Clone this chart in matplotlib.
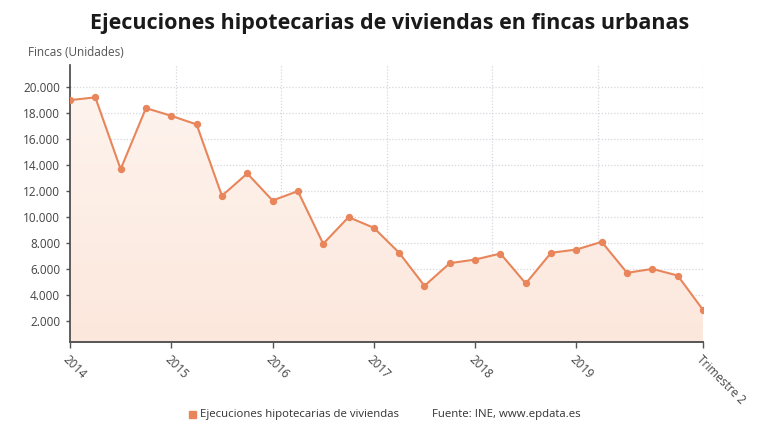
import matplotlib
matplotlib.use("Agg")
import matplotlib.pyplot as plt
import numpy as np
from matplotlib.ticker import FuncFormatter
from matplotlib.colors import LinearSegmentedColormap
from matplotlib import font_manager

plt.rcParams['font.family'] = ['Open Sans', 'DejaVu Sans']

quarters = list(range(26))  # 2014 T1 .. 2020 T2
values = [19000, 19210, 13690, 18385, 17790, 17130, 11640, 13360, 11280, 12000,
          7950, 10000, 9180, 7260, 4720, 6460, 6740, 7200, 4900, 7260,
          7510, 8100, 5720, 6020, 5510, 2870]
tick_pos = [0, 4, 8, 12, 16, 20, 25]
tick_labels = ["2014", "2015", "2016", "2017", "2018", "2019", "Trimestre 2"]
yticks = [2000, 4000, 6000, 8000, 10000, 12000, 14000, 16000, 18000, 20000]

title = "Ejecuciones hipotecarias de viviendas en fincas urbanas"
ylabel = "Fincas (Unidades)"
series_name = "Ejecuciones hipotecarias de viviendas"
source = "Fuente: INE, www.epdata.es"

line_color = "#e8855a"
ymin, ymax = 400, 21700

# pick a non-condensed bold Open Sans file for the title if available
title_fp = None
for f in font_manager.fontManager.ttflist:
    if f.name == "Open Sans" and f.stretch in ("normal", 500) and f.weight in (700, "bold") and f.style == "normal":
        title_fp = font_manager.FontProperties(fname=f.fname)
        break
if title_fp is None:
    title_fp = font_manager.FontProperties(family="Open Sans", weight="bold")

fig = plt.figure(figsize=(7.8, 4.4), dpi=100)
ax = fig.add_axes([70/780, 1-342/440, (703-70)/780, (342-65)/440])

x = np.array(quarters)
y = np.array(values)

# gradient fill under the line
poly = ax.fill_between(x, y, ymin, color="none", linewidth=0)
grad = np.linspace(0, 1, 256).reshape(-1, 1)
cmap = LinearSegmentedColormap.from_list("g", ["#fce7dc", "#fef5f0"])
im = ax.imshow(grad, extent=[x[0], x[-1], ymin, ymax], origin="lower",
               aspect="auto", cmap=cmap, zorder=1)
im.set_clip_path(poly.get_paths()[0], transform=ax.transData)

ax.plot(x, y, color=line_color, lw=1.5, zorder=3)
ax.scatter(x, y, s=28, color=line_color, zorder=4, linewidths=0)

ax.set_xlim(x[0], x[-1])
ax.set_ylim(ymin, ymax)

ax.set_yticks(yticks)
ax.yaxis.set_major_formatter(FuncFormatter(lambda v, p: f"{int(v):,}".replace(",", ".")))
ax.tick_params(axis="y", length=3, width=1, color="#555555", pad=4,
               labelsize=8.5, labelcolor="#444444")

ax.set_xticks(tick_pos)
ax.set_xticklabels(tick_labels, rotation=-45, ha="left", va="top",
                   rotation_mode="anchor")
ax.tick_params(axis="x", length=4, width=1, color="#555555", pad=4,
               labelsize=8.5, labelcolor="#444444")

# gridlines
ax.yaxis.grid(True, color="#d6d6de", linestyle=(0, (1, 1.5)), lw=0.9, zorder=0)
vgrid = np.linspace(x[0], x[-1], 7)[1:]
for v in vgrid:
    ax.axvline(v, color="#d6d6de", linestyle=(0, (1, 1.5)), lw=0.9, zorder=0)
ax.set_axisbelow(True)

for s in ["top", "right"]:
    ax.spines[s].set_visible(False)
ax.spines["left"].set_color("#444444")
ax.spines["bottom"].set_color("#555555")
ax.spines["left"].set_linewidth(1.2)
ax.spines["bottom"].set_linewidth(1.4)

title_fp.set_size(15.5)
fig.text(0.5, 1-24/440, title, ha="center", va="center",
         fontproperties=title_fp, color="#1a1a1a")
fig.text(28/780, 1-52/440, ylabel, ha="left", va="center", fontsize=8.5,
         color="#555555")

# legend row
fig.patches.append(plt.Rectangle((189/780, 1-418/440), 7/780, 7/440,
                                 transform=fig.transFigure, color=line_color))
fig.text(200/780, 1-414/440, series_name, ha="left", va="center", fontsize=8.2,
         color="#333333")
fig.text(432/780, 1-414/440, source, ha="left", va="center", fontsize=8.2,
         color="#333333")

fig.savefig("out.png", dpi=100, facecolor="white")
